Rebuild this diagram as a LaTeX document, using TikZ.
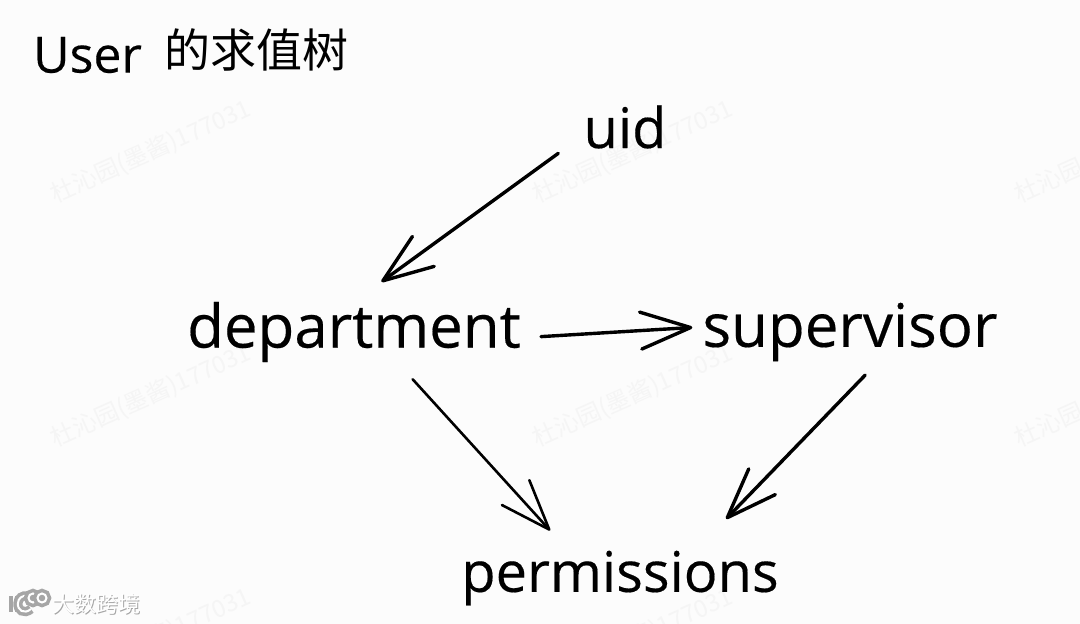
\documentclass[tikz,border=0pt]{standalone}
\usepackage{fontspec}
\setmainfont{Open Sans}
\newfontfamily\handfont[FakeBold=0.3]{Open Sans}
\newfontfamily\cjkfont{Noto Sans CJK SC}
\usetikzlibrary{arrows.meta}
\tikzset{
	word/.style = {inner sep = 0pt, font = \handfont\fontsize{#1}{60}\selectfont, text = black},
	word/.default = 56,
	flow/.style = {draw = black, line width = 2.6pt, line cap = round, -{Straight Barb[length = 50pt, width = 37pt, round]}},
	flowbold/.style = {flow, line width = 3.4pt},
	wmark/.style = {inner sep = 0pt, rotate = 24, text = black!4, font = \cjkfont\fontsize{24}{26}\selectfont},
	logofont/.style = {inner sep = 0pt, font = \cjkfont\fontsize{22}{24}\selectfont},
	logoline/.style = {draw = black!35, line width = 3.6pt, double = white, double distance = 2pt}
}
\begin{document}
\begin{tikzpicture}[x=1pt,y=-1pt]
		\useasboundingbox (0, 0) rectangle (1080, 624);
		\clip (0, 0) rectangle (1080, 624);
		\fill[black!1] (0, 0) rectangle (1080, 624);
		%%%%%%%%%%%%%
		\foreach \wx in {151, 633, 1115}
			\foreach \wy in {152, 396, 640}
				\node[wmark] at (\wx, \wy) {杜沁园(墨酱)177031};
		%%%%%%%%%%%%%
		\node[word = 50, anchor = west] (title) at (33, 55) {User};
		\node[word = 46, anchor = west, font = \cjkfont\fontsize{46}{50}\selectfont] (caption) at (164, 50) {的求值树};
		\node[word] (uid) at (625, 127) {uid};
		\node[word = 60] (department) at (354, 332) {department};
		\node[word = 60] (supervisor) at (850, 332) {supervisor};
		\node[word] (permissions) at (620, 578) {permissions};
		%%%%%%%%%%%%%
		\draw [flowbold, shorten <= 31pt, shorten >= 34pt] (uid.191) to (department.north);
		\draw [flowbold, shorten <= 20pt, shorten >= 10pt] (department.-2) to (supervisor.178);
		\draw [flow, shorten <= 23pt, shorten >= 27pt] (department.-35) to (permissions.152);
		\draw [flowbold, shorten <= 19pt, shorten >= 44pt] (supervisor.-46) to (permissions.20);
		%%%%%%%%%%%%%
		\draw [logoline] (14, 596) -- (14, 612);
		\draw [logoline] (31, 609) .. controls (24, 615) and (17, 610) .. (18, 603) .. controls (18, 598) and (23, 595) .. (27, 596);
		\draw [logoline] (33, 598) circle (4.5);
		\draw [logoline] (42, 598) circle (4.5);
		\node[logofont, text = black!35, anchor = west] (shade) at (53, 605) {大数跨境};
		\node[logofont, text = white, anchor = west] (brand) at (52, 604) {大数跨境};
	\end{tikzpicture}
\end{document}
